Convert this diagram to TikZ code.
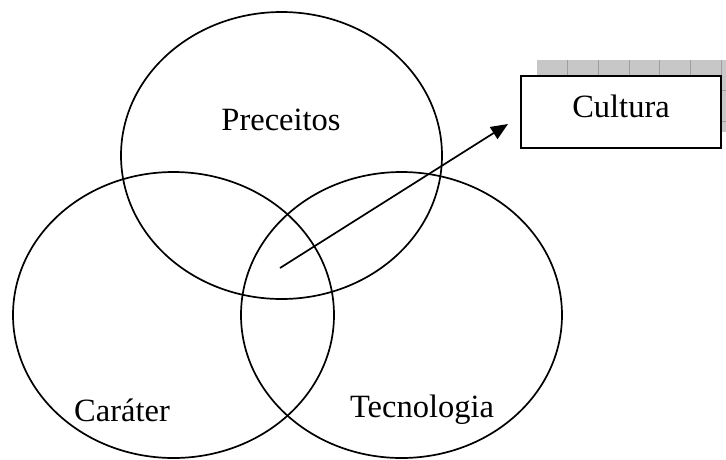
\documentclass[tikz,border=0pt]{standalone}
\usepackage{fontspec}
\setmainfont{Liberation Serif}
\usetikzlibrary{arrows.meta}
\begin{document}
\begin{tikzpicture}[x=1pt,y=-1pt,
  ring/.style={draw=black,line width=1.7pt},
  label/.style={font=\fontsize{32.5}{38}\selectfont,inner sep=0pt},
  gridband/.style={fill=black!22,draw=none},
  gridline/.style={draw=black!38,line width=0.8pt},
  culturebox/.style={draw=black,fill=white,line width=1.7pt},
  pointer/.style={draw=black,line width=1.7pt,-{Triangle[length=17pt,width=14pt]}}]
\useasboundingbox (0,0) rectangle (726,459);

% shaded grid behind the box
\path[gridband] (537,60) rectangle (726,76);
\path[gridband] (721,76) rectangle (726,132);
\foreach \gx in {567,598,629,659,690,721}
  \draw[gridline] (\gx,60) -- (\gx,76);
\draw[gridline] (721,90) -- (726,90);
\draw[gridline] (721,121) -- (726,121);

% three overlapping ellipses
\draw[ring] (281.5,155.5) ellipse [x radius=160.5, y radius=143.5];
\draw[ring] (173.5,315) ellipse [x radius=160.5, y radius=143];
\draw[ring] (401.5,315) ellipse [x radius=160.5, y radius=143];

\node[label] (preceitos) at (281,120) {Preceitos};
\node[label] (carater) at (122,410) {Caráter};
\node[label] (tecnologia) at (422,410) {Tecnologia};

% culture box
\path[culturebox] (521,76) rectangle (721,148);
\node[label] (cultura) at (621,106) {Cultura};

% arrow from the common area towards the box
\coordinate (origin) at (280,268);
\coordinate (tip) at (508,124);
\draw[pointer] (origin) -- (tip);
\end{tikzpicture}
\end{document}
